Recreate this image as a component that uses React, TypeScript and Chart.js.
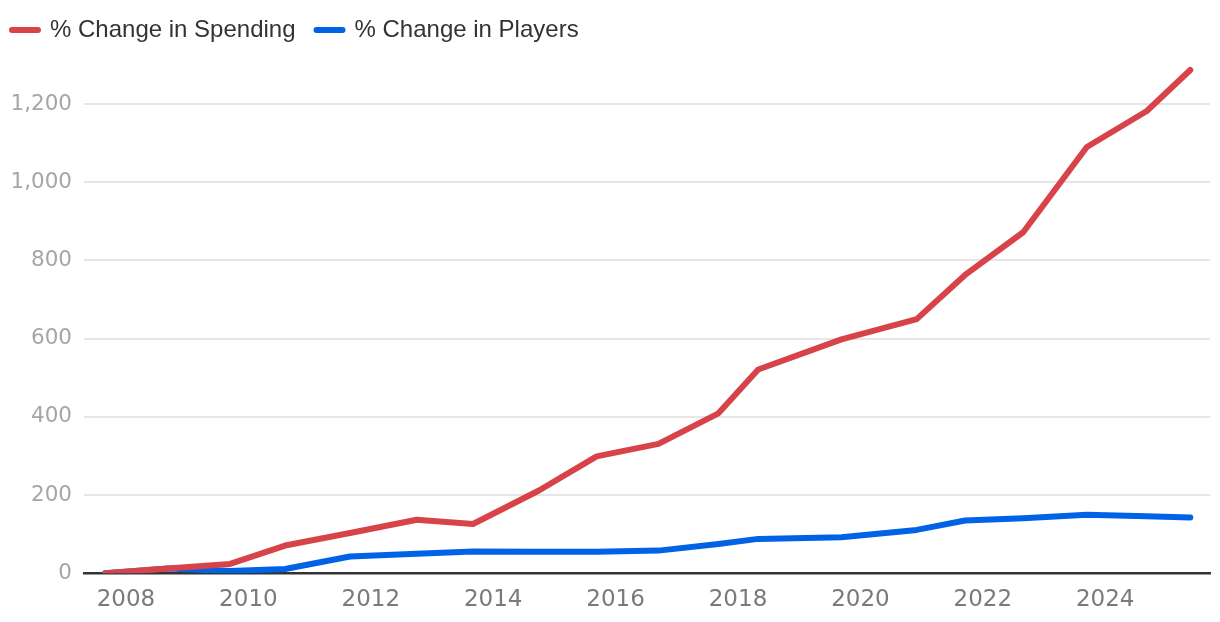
import { useEffect, useRef } from 'react';
import { Chart, registerables } from 'chart.js';

Chart.register(...registerables);

// Season positions (decimal years) on the time axis
const seasonYears = [
  2007.66, 2008.68, 2009.7, 2010.6, 2011.66, 2012.75, 2013.67, 2014.74, 2015.69, 2016.7,
  2017.68, 2018.33, 2019.69, 2020.92, 2021.71, 2022.66, 2023.7, 2024.68, 2025.39,
];
const spendingChange = [
  0, 12, 24, 71, 103, 137, 126, 211, 299, 331, 409, 521, 598, 650, 763, 872, 1090, 1182, 1287,
];
const playersChange = [
  0, 12, 6, 11, 43, 50, 56, 55, 55, 58, 75, 88, 92, 111, 135, 141, 150, 146, 143,
];
const xTickYears = [2008, 2010, 2012, 2014, 2016, 2018, 2020, 2022, 2024];
const yTickValues = [0, 200, 400, 600, 800, 1000, 1200];

const seriesNames = ['% Change in Spending', '% Change in Players'];
const seriesColors = ['#d8434a', '#0063e6'];

export default function App() {
  const canvasRef = useRef<HTMLCanvasElement | null>(null);

  useEffect(() => {
    if (!canvasRef.current) return;
    const toPoints = (vals: number[]) => vals.map((v, i) => ({ x: seasonYears[i], y: v }));
    const makeSet = (i: number, vals: number[]) => ({
      label: seriesNames[i],
      data: toPoints(vals),
      borderColor: seriesColors[i],
      backgroundColor: seriesColors[i],
      borderWidth: 6,
      borderCapStyle: 'round',
      borderJoinStyle: 'round',
      pointRadius: 0,
      tension: 0,
    });
    const chart = new Chart(canvasRef.current, {
      type: 'line',
      data: {
        datasets: [makeSet(0, spendingChange), makeSet(1, playersChange)],
      },
      options: {
        animation: false,
        responsive: true,
        maintainAspectRatio: false,
        layout: { padding: { left: -9, top: -3, right: 10, bottom: -4.9 } },
        plugins: {
          legend: {
            position: 'top',
            align: 'start',
            labels: {
              usePointStyle: true,
              pointStyle: 'line',
              pointStyleWidth: 26,
              padding: 21,
              color: '#333333',
              font: { family: 'Liberation Sans', size: 24 },
              generateLabels: (c: any) =>
                (Chart.defaults.plugins.legend.labels.generateLabels as any)(c).map((item: any) => ({
                  ...item,
                  lineCap: 'round',
                  lineWidth: 6,
                })),
            },
          },
          tooltip: { enabled: false },
        },
        scales: {
          x: {
            type: 'linear',
            min: 2007.314,
            max: 2025.712,
            afterBuildTicks: (axis: any) => {
              axis.ticks = xTickYears.map((v) => ({ value: v }));
            },
            ticks: {
              callback: (v: any) => String(v),
              color: '#7a7a7a',
              padding: 13,
              autoSkip: false,
              maxRotation: 0,
              font: { family: 'DejaVu Sans', size: 23 },
            },
            grid: { display: false, drawTicks: false },
            border: { display: true, color: '#333333', width: 2.5 },
          },
          y: {
            min: 0,
            max: 1333,
            afterBuildTicks: (axis: any) => {
              axis.ticks = yTickValues.map((v) => ({ value: v }));
            },
            afterFit: (axis: any) => {
              axis.width = 93;
            },
            ticks: {
              callback: (v: any) => Number(v).toLocaleString('en-US'),
              color: '#a6a6a6',
              padding: 12,
              font: { family: 'DejaVu Sans', size: 21.5 },
            },
            grid: {
              color: (ctx: any) => (ctx.tick && ctx.tick.value === 0 ? 'rgba(0,0,0,0)' : '#e6e6e6'),
              lineWidth: 2,
              drawTicks: false,
            },
            border: { display: false },
          },
        },
      },
    } as any);
    return () => chart.destroy();
  }, []);

  return (
    <div style={{ position: 'fixed', left: 0, top: 0, width: 1220, height: 622, background: '#ffffff' }}>
      <canvas ref={canvasRef} />
    </div>
  );
}
